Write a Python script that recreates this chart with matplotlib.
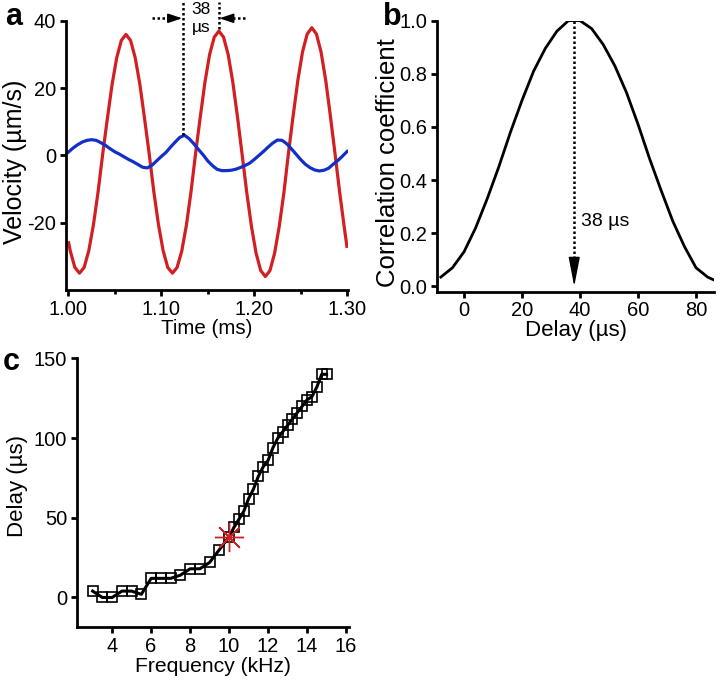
import matplotlib
matplotlib.use("Agg")
import matplotlib.pyplot as plt
from matplotlib.ticker import MultipleLocator

plt.rcParams['font.family'] = ['Liberation Sans', 'DejaVu Sans']
plt.rcParams['font.size'] = 14
plt.rcParams['axes.unicode_minus'] = False

# panel a: velocity traces
red_t = [1.000, 1.002, 1.007, 1.012, 1.017, 1.022, 1.027, 1.032, 1.037, 1.042,
         1.047, 1.052, 1.057, 1.062, 1.067, 1.072, 1.077, 1.082, 1.087, 1.092,
         1.097, 1.102, 1.107, 1.112, 1.117, 1.122, 1.127, 1.132, 1.137, 1.142,
         1.147, 1.152, 1.157, 1.162, 1.167, 1.172, 1.177, 1.182, 1.187, 1.192,
         1.197, 1.202, 1.207, 1.212, 1.217, 1.222, 1.227, 1.232, 1.237, 1.242,
         1.247, 1.252, 1.257, 1.262, 1.267, 1.272, 1.277, 1.282, 1.287, 1.292,
         1.297, 1.300]
red_v = [-25.5, -28.3, -33.3, -35.0, -33.3, -28.3, -20.6, -10.8, 0.5, 11.0,
         21.0, 29.0, 34.2, 36.0, 34.2, 29.0, 21.1, 11.0, 0.5, -10.8,
         -20.6, -28.3, -33.3, -35.0, -33.3, -28.5, -20.8, -10.8, 0.8, 11.5,
         21.8, 30.0, 35.2, 37.0, 35.2, 30.0, 21.8, 11.5, 0.3, -11.0,
         -21.0, -29.0, -34.2, -36.0, -34.2, -29.0, -21.0, -11.0, 1.0, 12.0,
         22.4, 30.8, 36.1, 38.0, 36.1, 30.7, 22.3, 11.7, 0.5, -11.0,
         -21.5, -27.5]

blue_t = [1.000, 1.005, 1.010, 1.015, 1.020, 1.025, 1.030, 1.035, 1.040, 1.045,
          1.050, 1.055, 1.060, 1.065, 1.070, 1.075, 1.080, 1.085, 1.090, 1.095,
          1.100, 1.105, 1.110, 1.115, 1.120, 1.125, 1.130, 1.135, 1.140, 1.145,
          1.150, 1.155, 1.160, 1.165, 1.170, 1.175, 1.180, 1.185, 1.190, 1.195,
          1.200, 1.205, 1.210, 1.215, 1.220, 1.225, 1.230, 1.235, 1.240, 1.245,
          1.250, 1.255, 1.260, 1.265, 1.270, 1.275, 1.280, 1.285, 1.290, 1.295,
          1.300]
blue_v = [1.0, 2.2, 3.2, 4.0, 4.5, 4.7, 4.5, 3.8, 3.0, 2.0,
          1.1, 0.4, -0.4, -1.2, -1.9, -2.7, -3.5, -3.7, -2.9, -1.6,
          -0.3, 0.9, 2.5, 4.0, 5.4, 6.0, 5.0, 3.5, 1.8, 0.2,
          -1.6, -3.0, -4.1, -4.5, -4.5, -4.4, -4.1, -3.6, -3.0, -2.3,
          -1.2, 0.0, 1.2, 2.5, 3.7, 4.6, 4.5, 3.5, 2.0, 0.4,
          -1.2, -2.6, -3.6, -4.3, -4.6, -4.4, -3.8, -2.6, -1.5, -0.2,
          1.2]

# panel b: cross-correlation vs delay
delay = [-8, -4, 0, 4, 8, 12, 16, 20, 24, 28, 32, 36, 40, 44, 48, 52, 56, 60,
         64, 68, 72, 76, 80, 84, 86]
corr = [0.035, 0.07, 0.13, 0.22, 0.33, 0.45, 0.58, 0.70, 0.81, 0.895, 0.96,
        1.0, 1.0, 0.97, 0.91, 0.83, 0.73, 0.61, 0.48, 0.36, 0.245, 0.15, 0.07,
        0.035, 0.025]

# panel c: delay vs frequency
freq = [3.0, 3.5, 4.0, 4.5, 5.0, 5.5, 6.0, 6.5, 7.0, 7.5, 8.0, 8.5, 9.0, 9.5,
        10.0, 10.25, 10.5, 10.75, 11.0, 11.25, 11.5, 11.75, 12.0, 12.25, 12.5,
        12.75, 13.0, 13.25, 13.5, 13.75, 14.0, 14.25, 14.5, 14.75, 15.0]
fdelay = [4, 0, 0, 4, 4, 2, 12, 12, 12, 14, 18, 18, 22, 30,
          38, 44, 49, 54, 62, 68, 76, 82, 86, 94, 100,
          104, 108, 112, 116, 120, 124, 126, 132, 140, 140]

RED = '#d21f23'
BLUE = '#1230c8'

fig = plt.figure(figsize=(7.2, 6.88), dpi=100)


def style(ax, ls=14.5):
    for s in ['top', 'right']:
        ax.spines[s].set_visible(False)
    for s in ['left', 'bottom']:
        ax.spines[s].set_linewidth(2.0)
    ax.tick_params(which='major', direction='out', length=4, width=2.0,
                   labelsize=ls, pad=3)
    ax.tick_params(which='minor', direction='out', length=3, width=2.0)


# ---- a ----
ax1 = fig.add_axes([0.0917, 0.5785, 0.3917, 0.391])
ax1.plot(red_t, red_v, color=RED, lw=2.3, solid_capstyle='butt')
ax1.plot(blue_t, blue_v, color=BLUE, lw=2.3)
ax1.set_xlim(0.9975, 1.301)
ax1.set_ylim(-40, 40)
ax1.set_xticks([1.00, 1.10, 1.20, 1.30])
ax1.set_xticklabels(['1.00', '1.10', '1.20', '1.30'])
ax1.xaxis.set_minor_locator(MultipleLocator(0.05))
ax1.set_yticks([-20, 0, 20, 40])
ax1.set_xlabel('Time (ms)', fontsize=14.8, labelpad=0)
ax1.set_ylabel('Velocity (µm/s)', fontsize=18)
ax1.yaxis.set_label_coords(-0.14, 0.476)
style(ax1, 14.5)
dot = dict(color='black', lw=1.8, ls=(0, (1, 1)), clip_on=False)
ax1.plot([1.1233, 1.1233], [6.0, 45.5], **dot)
ax1.plot([1.1616, 1.1616], [37.5, 45.5], **dot)
ax1.plot([1.090, 1.115], [40.8, 40.8], **dot)
ax1.plot([1.1905, 1.169], [40.8, 40.8], **dot)
ax1.annotate('', xy=(1.1225, 40.8), xytext=(1.113, 40.8),
             arrowprops=dict(arrowstyle='-|>,head_length=0.6,head_width=0.2',
                             color='black', lw=1.2, shrinkA=0, shrinkB=0),
             annotation_clip=False)
ax1.annotate('', xy=(1.1625, 40.8), xytext=(1.172, 40.8),
             arrowprops=dict(arrowstyle='-|>,head_length=0.6,head_width=0.2',
                             color='black', lw=1.2, shrinkA=0, shrinkB=0),
             annotation_clip=False)
ax1.text(1.1425, 43.3, '38', ha='center', va='center', fontsize=12.5)
ax1.text(1.1425, 38.0, 'µs', ha='center', va='center', fontsize=12.5)

# ---- b ----
ax2 = fig.add_axes([0.607, 0.576, 0.3847, 0.394])
ax2.plot(delay, corr, color='black', lw=2.0)
ax2.set_xlim(-9.3, 86.2)
ax2.set_ylim(-0.02, 1.0)
ax2.set_xticks([0, 20, 40, 60, 80])
ax2.set_yticks([0.0, 0.2, 0.4, 0.6, 0.8, 1.0])
ax2.set_yticklabels(['0.0', '0.2', '0.4', '0.6', '0.8', '1.0'])
ax2.set_xlabel('Delay (µs)', fontsize=16, labelpad=0)
ax2.set_ylabel('Correlation coefficient', fontsize=18.5)
ax2.yaxis.set_label_coords(-0.135, 0.478)
style(ax2, 14.5)
ax2.plot([38, 38], [1.0, 0.1], color='black', lw=1.8, ls=(0, (1, 1)))
ax2.annotate('', xy=(38, 0.0), xytext=(38, 0.1),
             arrowprops=dict(arrowstyle='-|>,head_length=1.3,head_width=0.25',
                             color='black', lw=1.0, shrinkA=0, shrinkB=0))
ax2.text(40.3, 0.245, '38 µs', ha='left', va='center', fontsize=14)

# ---- c ----
ax3 = fig.add_axes([0.107, 0.0887, 0.3777, 0.3904])
ax3.plot(freq, fdelay, color='black', lw=2.2, marker='s', ms=7.8,
         mfc='none', mec='black', mew=1.2)
ax3.plot([10.0], [38.0], ls='none', marker=(8, 2, 0), ms=21, mec=RED,
         mew=1.0)
ax3.set_xlim(2.2, 16.15)
ax3.set_ylim(-18.5, 150)
ax3.set_xticks([4, 6, 8, 10, 12, 14, 16])
ax3.set_yticks([0, 50, 100, 150])
ax3.set_xlabel('Frequency (kHz)', fontsize=15.2, labelpad=1)
ax3.set_ylabel('Delay (µs)', fontsize=16)
ax3.yaxis.set_label_coords(-0.18, 0.525)
style(ax3, 14.5)

for lab, x, y in [('a', 5, 25), ('b', 383, 25), ('c', 3, 370)]:
    fig.text(x / 720, 1 - y / 688, lab, fontsize=22, fontweight='bold',
             ha='left', va='baseline')

fig.savefig('out.png', dpi=100)
